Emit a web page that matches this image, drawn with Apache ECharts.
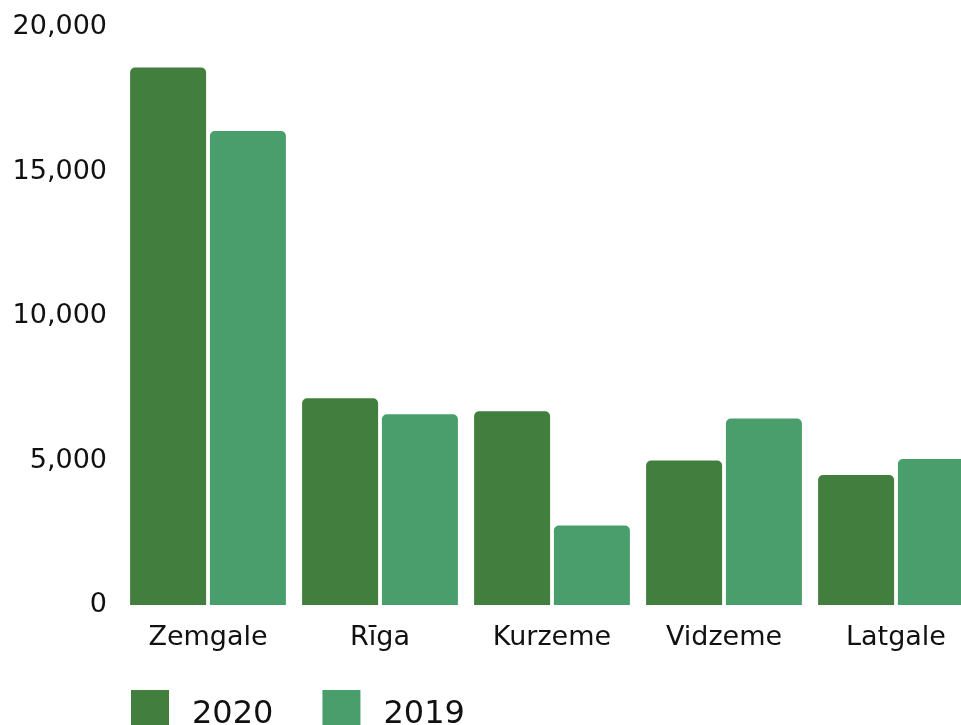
<!DOCTYPE html>
<html>
<head>
<meta charset="utf-8">
<script src="https://cdn.jsdelivr.net/npm/echarts@6/dist/echarts.min.js"></script>
<style>
  html, body { margin: 0; padding: 0; background: #fff; }
  #chart { width: 961px; height: 725px; }
</style>
</head>
<body>
<div id="chart"></div>
<script>
var regions = ['Zemgale', 'Rīga', 'Kurzeme', 'Vidzeme', 'Latgale'];
var values2020 = [18600, 7150, 6700, 5000, 4500];
var values2019 = [16400, 6600, 2750, 6450, 5050];
var yTicks = [0, 5000, 10000, 15000, 20000];

var font = "'DejaVu Sans', sans-serif";
var chart = echarts.init(document.getElementById('chart'));

var option = {
  animation: false,
  textStyle: { fontFamily: font },
  // the plot runs past the right edge, last bar is cut off
  grid: { left: 122, width: 860, top: 27, bottom: 120, outerBoundsMode: 'none' },
  legend: {
    left: 131,
    top: 690,
    padding: 0,
    icon: 'rect',
    itemWidth: 38,
    itemHeight: 38,
    itemGap: 49,
    data: ['2020', '2019'],
    formatter: '{t|{name}}',
    textStyle: {
      fontSize: 32, color: '#111', fontFamily: font,
      rich: { t: { fontSize: 32, color: '#111', fontFamily: font, padding: [12, 0, 0, 18] } }
    }
  },
  xAxis: {
    type: 'category',
    data: regions,
    axisLine: { show: false },
    axisTick: { show: false },
    axisLabel: { fontSize: 27, color: '#111', margin: 19, fontFamily: font }
  },
  yAxis: {
    type: 'value',
    min: yTicks[0],
    max: yTicks[yTicks.length - 1],
    interval: 5000,
    splitLine: { show: false },
    axisLine: { show: false },
    axisTick: { show: false },
    axisLabel: {
      fontSize: 27,
      color: '#111',
      margin: 15,
      fontFamily: font,
      formatter: function (v) { return v.toLocaleString('en-US'); }
    }
  },
  series: [{
    name: '2020',
    type: 'bar',
    data: values2020,
    barWidth: 76,
    barGap: '5%',
    itemStyle: { color: '#427e3d', borderRadius: [5, 5, 0, 0] }
  }, {
    name: '2019',
    type: 'bar',
    data: values2019,
    barWidth: 76,
    itemStyle: { color: '#4a9e6c', borderRadius: [5, 5, 0, 0] }
  }]
};

chart.setOption(option);
</script>
</body>
</html>
